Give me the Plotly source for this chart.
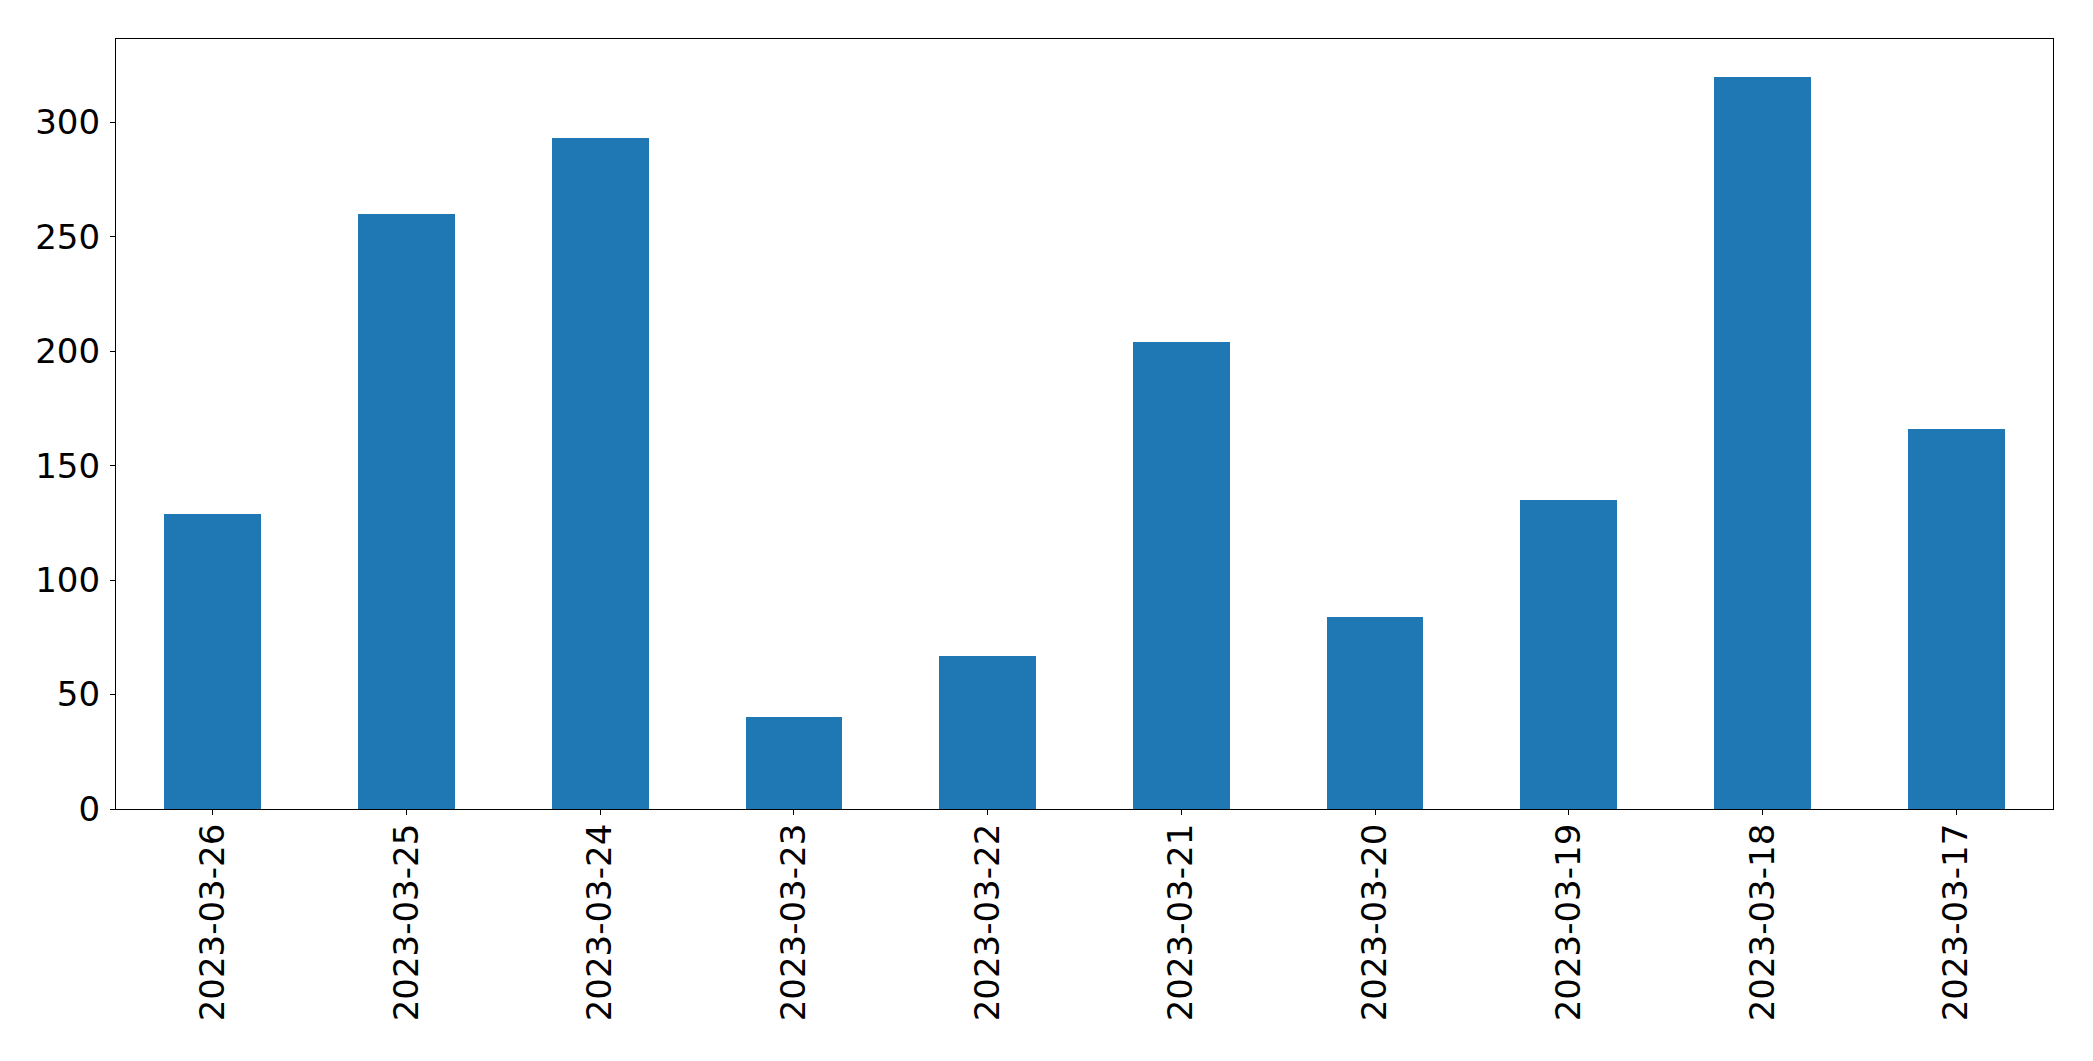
import plotly.graph_objects as go

dates = ["2023-03-26", "2023-03-25", "2023-03-24", "2023-03-23", "2023-03-22",
         "2023-03-21", "2023-03-20", "2023-03-19", "2023-03-18", "2023-03-17"]
values = [129, 260, 293, 40, 67, 204, 84, 135, 320, 166]
y_ticks = [0, 50, 100, 150, 200, 250, 300]

fig = go.Figure(go.Bar(
    x=dates, y=values, width=0.5,
    marker=dict(color="#1f77b4", line=dict(width=0)),
))

fig.update_layout(
    width=2093, height=1061,
    margin=dict(l=116, r=40, t=39, b=252),
    paper_bgcolor="white", plot_bgcolor="white",
    font=dict(family="DejaVu Sans", size=34, color="black"),
    showlegend=False,
    bargap=0,
)
fig.update_xaxes(
    type="category", range=[-0.5, len(dates) - 0.5],
    showline=True, linecolor="black", linewidth=1.3, mirror=True,
    ticks="outside", ticklen=5, tickcolor="black", tickwidth=1.3,
    tickangle=-90, showgrid=False, zeroline=False,
    ticklabelstandoff=-5,
)
fig.update_yaxes(
    range=[0, 336.4], tickvals=y_ticks,
    showline=True, linecolor="black", linewidth=1.3, mirror=True,
    ticks="outside", ticklen=5, tickcolor="black", tickwidth=1.3,
    showgrid=False, zeroline=False,
    ticklabelstandoff=3,
)

fig.write_html("out.html")
